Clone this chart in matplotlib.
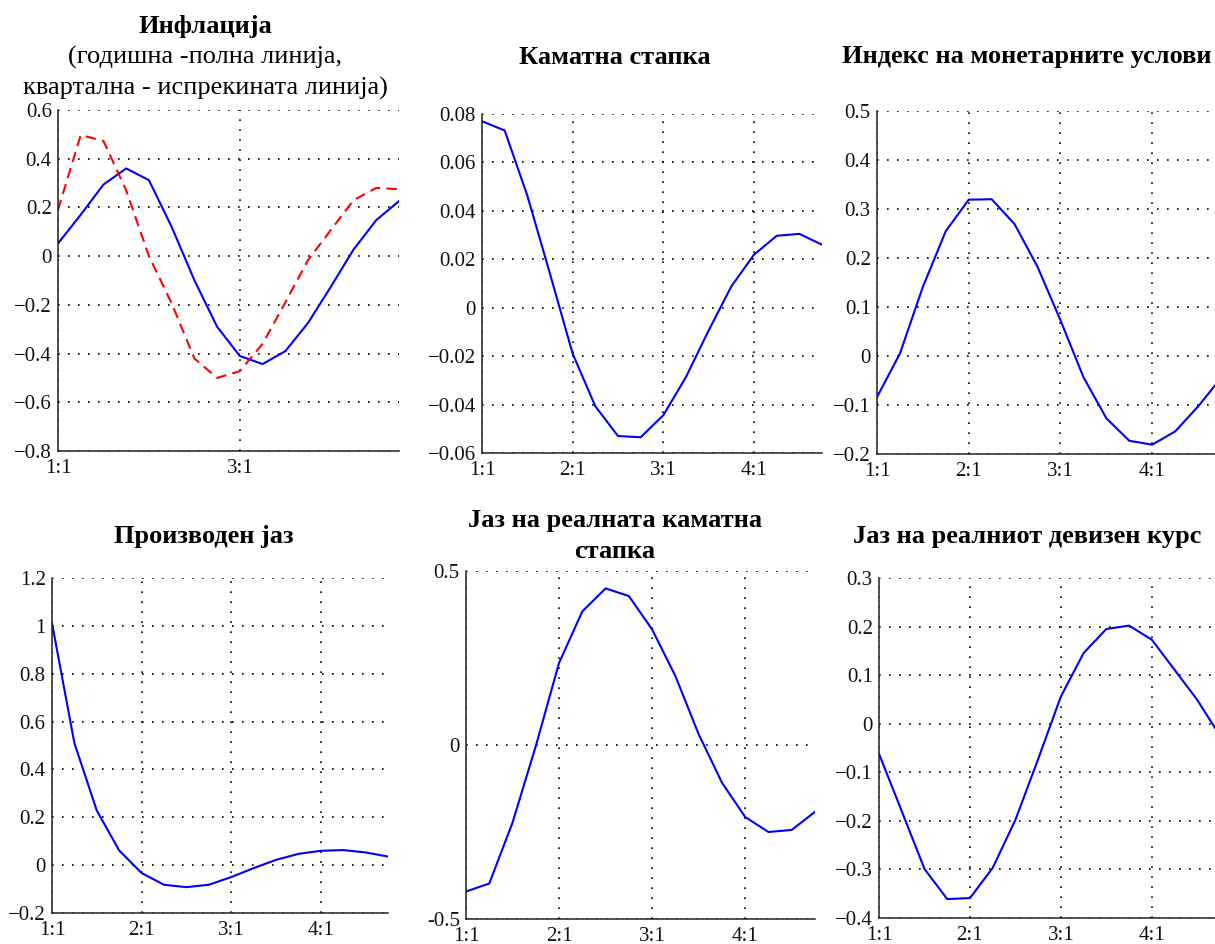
import matplotlib
matplotlib.use("Agg")
import matplotlib.pyplot as plt
from matplotlib.ticker import MultipleLocator, FuncFormatter, FixedLocator
import numpy as np

W, H = 1215, 944
plt.rcParams['font.family'] = ['Liberation Serif', 'DejaVu Serif']

quarters = list(range(16))
year_ticks = [0, 4, 8, 12]
year_labels = ["1:1", "2:1", "3:1", "4:1"]

infl_annual = [0.052, 0.17, 0.294, 0.36, 0.312, 0.12, -0.099, -0.29, -0.41, -0.443,
               -0.39, -0.274, -0.126, 0.027, 0.148, 0.226]
infl_quarterly = [0.19, 0.497, 0.473, 0.27, 0.0, -0.194, -0.42, -0.5, -0.472, -0.36,
                  -0.19, -0.016, 0.107, 0.23, 0.28, 0.275]
interest = [0.077, 0.0732, 0.0463, 0.014, -0.019, -0.0407, -0.053, -0.0535, -0.0444,
            -0.0286, -0.0094, 0.0088, 0.0219, 0.0297, 0.0305, 0.026]
mci = [-0.084, 0.005, 0.141, 0.255, 0.319, 0.320, 0.269, 0.182, 0.073, -0.043,
       -0.127, -0.173, -0.181, -0.154, -0.103, -0.045]
output_gap = [1.011, 0.51, 0.228, 0.061, -0.033, -0.082, -0.092, -0.082, -0.05,
              -0.0125, 0.022, 0.047, 0.06, 0.063, 0.053, 0.036]
real_rate_gap = [-0.421, -0.398, -0.223, -0.003, 0.236, 0.384, 0.45, 0.428, 0.332,
                 0.198, 0.031, -0.108, -0.207, -0.25, -0.244, -0.192]
real_fx_gap = [-0.062, -0.18, -0.299, -0.361, -0.359, -0.297, -0.198, -0.073, 0.056,
               0.1455, 0.195, 0.202, 0.173, 0.111, 0.049, -0.025]

fig = plt.figure(figsize=(W / 100, H / 100), dpi=100)

def make_ax(x0, x1, y0, y1):
    return fig.add_axes([x0 / W, 1 - y1 / H, (x1 - x0) / W, (y1 - y0) / H])

def fmt_unicode(v, pos):
    s = "%g" % round(v, 6)
    if s == "-0":
        s = "0"
    return s.replace("-", "\u2212")

def fmt_hyphen(v, pos):
    s = "%g" % round(v, 6)
    if s == "-0":
        s = "0"
    return s

def style(ax, ylim, ystep, xt, xl, formatter=fmt_unicode):
    ax.set_xlim(0, 15)
    ax.set_ylim(*ylim)
    ax.yaxis.set_major_locator(MultipleLocator(ystep))
    ax.yaxis.set_major_formatter(FuncFormatter(formatter))
    ax.xaxis.set_major_locator(FixedLocator(xt))
    ax.set_xticklabels(xl)
    for sp in ["top", "right"]:
        ax.spines[sp].set_visible(False)
    for sp in ["left", "bottom"]:
        ax.spines[sp].set_color("#222222")
        ax.spines[sp].set_linewidth(1.1)
    ax.tick_params(direction="in", length=0, labelsize=15, pad=4.5, colors="#111111")
    ax.tick_params(axis="x", pad=6)
    ax.grid(True, color="black", linestyle=(0, (1, 5)), linewidth=1.2)
    ax.set_axisbelow(True)

blue = "#0000ff"
red = "#ff0000"
LW = 1.5

# Panel 1
ax1 = make_ax(58, 399, 110, 451)
ax1.plot(quarters, infl_annual, color=blue, lw=LW)
ax1.plot(quarters, infl_quarterly, color=red, lw=LW, linestyle=(0, (5, 3)))
style(ax1, (-0.8, 0.6), 0.2, [0, 8], ["1:1", "3:1"])

# Panel 2
ax2 = make_ax(482, 822, 114, 453)
ax2.plot(quarters, interest, color=blue, lw=LW)
style(ax2, (-0.06, 0.08), 0.02, year_ticks, year_labels)

# Panel 3
ax3 = make_ax(877, 1221, 111, 454)
ax3.plot(quarters, mci, color=blue, lw=LW)
style(ax3, (-0.2, 0.5), 0.1, year_ticks, year_labels)

# Panel 4
ax4 = make_ax(52, 388, 578, 913)
ax4.plot(quarters, output_gap, color=blue, lw=LW)
style(ax4, (-0.2, 1.2), 0.2, year_ticks, year_labels)

# Panel 5
ax5 = make_ax(466, 815, 571, 919)
ax5.plot(quarters, real_rate_gap, color=blue, lw=LW)
style(ax5, (-0.5, 0.5), 0.5, year_ticks, year_labels, formatter=fmt_hyphen)

# Panel 6
ax6 = make_ax(879, 1220, 578, 918)
ax6.plot(quarters, real_fx_gap, color=blue, lw=LW)
style(ax6, (-0.4, 0.3), 0.1, year_ticks, year_labels)

def ftext(x, y, s, bold=False, size=19):
    fig.text(x / W, 1 - y / H, s, ha="center", va="center", fontsize=size,
             fontweight="bold" if bold else "normal", color="black")

ftext(205, 27, "Инфлација", bold=True)
ftext(205, 57, "(годишна -полна линија,", size=19)
ftext(205, 88, "квартална - испрекината линија)", size=19)
ftext(615, 57, "Каматна стапка", bold=True)
ftext(1027, 57, "Индекс на монетарните услови", bold=True)
ftext(204, 537, "Производен јаз", bold=True)
ftext(615, 520, "Јаз на реалната каматна", bold=True)
ftext(615, 552, "стапка", bold=True)
ftext(1027, 537, "Јаз на реалниот девизен курс", bold=True)

fig.savefig("out.png", dpi=100)
